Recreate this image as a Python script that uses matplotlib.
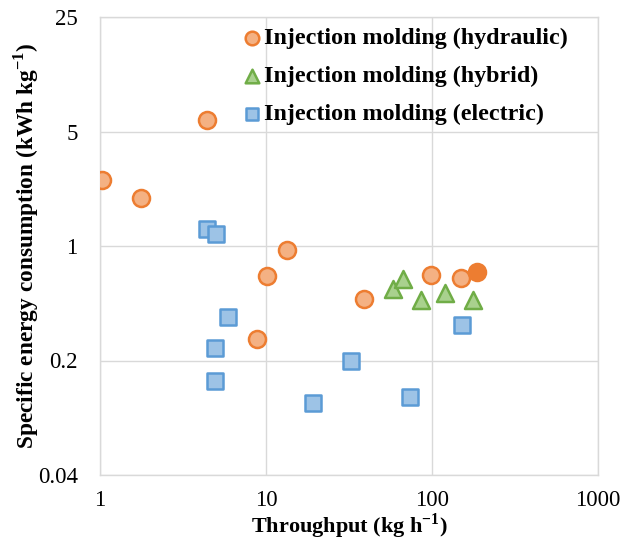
import matplotlib
matplotlib.use("Agg")
import matplotlib.pyplot as plt
from matplotlib.ticker import FixedLocator, FixedFormatter, NullLocator

plt.rcParams['font.family'] = ['Liberation Serif', 'DejaVu Serif']

# Throughput (kg/h) and specific energy consumption (kWh/kg)
hydraulic_x = [1.03, 1.77, 4.39, 8.86, 10.2, 13.3, 38.9, 98.2, 149.5]
hydraulic_y = [2.52, 1.95, 5.84, 0.27, 0.654, 0.94, 0.478, 0.663, 0.642]
hydraulic_hl_x = [186]
hydraulic_hl_y = [0.694]

hybrid_x = [58.5, 67.2, 85.5, 119.7, 177]
hybrid_y = [0.55, 0.633, 0.467, 0.513, 0.467]

electric_x = [4.39, 4.98, 5.93, 4.93, 4.93, 19.3, 32.4, 73.7, 152]
electric_y = [1.277, 1.19, 0.369, 0.240, 0.150, 0.110, 0.200, 0.120, 0.329]

y_ticks = [0.04, 0.2, 1, 5, 25]
y_tick_labels = ["0.04", "0.2", "1", "5", "25"]
x_ticks = [1, 10, 100, 1000]
x_tick_labels = ["1", "10", "100", "1000"]

fig = plt.figure(figsize=(6.36, 5.45), dpi=100)
ax = fig.add_axes([100/636, 1 - 475/545, (598 - 100)/636, (475 - 17)/545])

ax.set_xscale('log')
ax.set_yscale('log')
ax.set_xlim(1, 1000)
ax.set_ylim(0.04, 25)

ax.scatter(hydraulic_x, hydraulic_y, s=150, marker='o', facecolor='#F4B183',
           edgecolor='#ED7D31', linewidth=1.8, zorder=3,
           label='Injection molding (hydraulic)')
ax.scatter(hybrid_x, hybrid_y, s=150, marker='^', facecolor='#A9D18E',
           edgecolor='#70AD47', linewidth=1.8, zorder=3,
           label='Injection molding (hybrid)')
ax.scatter(electric_x, electric_y, s=130, marker='s', facecolor='#9DC3E6',
           edgecolor='#5B9BD5', linewidth=1.8, zorder=3,
           label='Injection molding (electric)')
ax.scatter(hydraulic_hl_x, hydraulic_hl_y, s=150, marker='o', facecolor='#ED7D31',
           edgecolor='#ED7D31', linewidth=1.8, zorder=4)

ax.yaxis.set_major_locator(FixedLocator(y_ticks))
ax.yaxis.set_major_formatter(FixedFormatter(y_tick_labels))
ax.yaxis.set_minor_locator(NullLocator())
ax.xaxis.set_major_locator(FixedLocator(x_ticks))
ax.xaxis.set_major_formatter(FixedFormatter(x_tick_labels))
ax.xaxis.set_minor_locator(NullLocator())

ax.grid(True, which='major', color='#D9D9D9', linewidth=1.0, zorder=0)
ax.set_axisbelow(True)
for sp in ax.spines.values():
    sp.set_color('#D9D9D9')
    sp.set_linewidth(1.0)
ax.tick_params(length=0, labelsize=16.5, colors='#000000')
ax.tick_params(axis='y', pad=16)
ax.tick_params(axis='x', pad=11)

xl = ax.set_xlabel('Throughput (kg h$^{\\mathregular{-1}}$)', fontsize=16,
                   fontweight='bold')
xl.set_va('baseline')
ax.xaxis.set_label_coords(0.5, (475 - 533) / 458)

ax.set_ylabel('Specific energy consumption (kWh kg$^{\\mathregular{-1}}$)',
              fontsize=16.8, fontweight='bold')
ax.yaxis.set_label_coords((41 - 100) / 498, 0.5)

leg = ax.legend(loc='upper left', bbox_to_anchor=(0.262, 0.999), frameon=False,
                prop={'weight': 'bold', 'size': 17.3}, handletextpad=0.0,
                handlelength=1.0, labelspacing=0.68, borderaxespad=0.0,
                markerscale=0.8)

fig.savefig('out.png', dpi=100)
